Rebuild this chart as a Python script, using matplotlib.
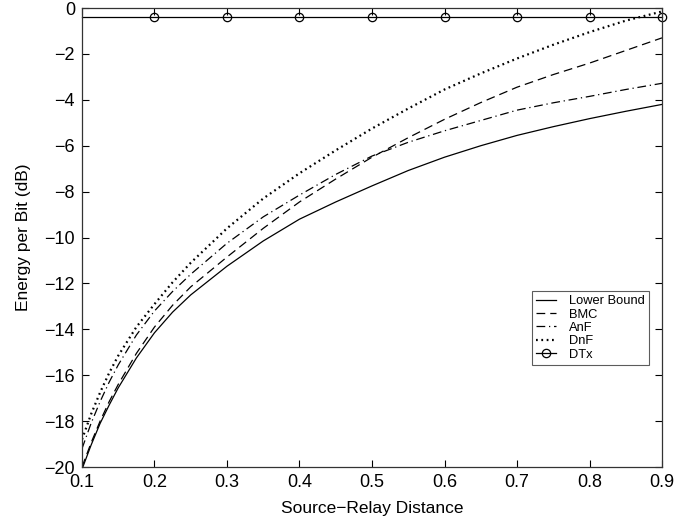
import matplotlib
matplotlib.use("Agg")
import matplotlib.pyplot as plt

plt.rcParams['font.family'] = ['Liberation Sans', 'DejaVu Sans']

x = [0.1, 0.1125, 0.125, 0.1375, 0.15, 0.175, 0.2, 0.225, 0.25, 0.3, 0.35, 0.4, 0.45, 0.5, 0.55, 0.6, 0.65, 0.7, 0.75, 0.8, 0.85, 0.9]
lower_bound = [-20.1, -19.05, -18.1, -17.3, -16.55, -15.25, -14.15, -13.25, -12.5, -11.25, -10.15, -9.2, -8.45, -7.75, -7.08, -6.5, -6.0, -5.55, -5.17, -4.82, -4.5, -4.2]
bmc = [-20.0, -18.95, -18.0, -17.15, -16.4, -15.05, -13.9, -12.95, -12.15, -10.85, -9.6, -8.45, -7.45, -6.5, -5.65, -4.85, -4.12, -3.45, -2.9, -2.4, -1.85, -1.3]
anf = [-19.2, -18.1, -17.15, -16.3, -15.55, -14.25, -13.2, -12.35, -11.6, -10.25, -9.1, -8.15, -7.25, -6.45, -5.85, -5.35, -4.9, -4.45, -4.13, -3.85, -3.55, -3.28]
dnf = [-18.8, -17.7, -16.75, -15.9, -15.15, -13.9, -12.9, -11.95, -11.1, -9.6, -8.3, -7.2, -6.2, -5.25, -4.38, -3.55, -2.85, -2.2, -1.6, -1.05, -0.55, -0.15]
dtx_x = [0.1, 0.2, 0.3, 0.4, 0.5, 0.6, 0.7, 0.8, 0.9]
dtx = [-0.4, -0.4, -0.4, -0.4, -0.4, -0.4, -0.4, -0.4, -0.4]

xticks = [0.1, 0.2, 0.3, 0.4, 0.5, 0.6, 0.7, 0.8, 0.9]
yticks = [-20, -18, -16, -14, -12, -10, -8, -6, -4, -2, 0]

fig = plt.figure(figsize=(6.93, 5.21), dpi=100)
ax = fig.add_axes([0.1183, 0.1036, 0.8370, 0.8810])

lw = 0.9
ax.plot(x, lower_bound, color='black', lw=lw, ls='-', label='Lower Bound')
ax.plot(x, bmc, color='black', lw=lw, ls=(0, (7, 4)), label='BMC')
ax.plot(x, anf, color='black', lw=lw, ls=(0, (7, 3, 1, 3)), label='AnF')
ax.plot(x, dnf, color='black', lw=1.6, ls=(0, (0.8, 1.6)), label='DnF')
ax.plot(dtx_x, dtx, color='black', lw=lw, ls='-', marker='o', markersize=6,
        markerfacecolor='none', markeredgecolor='black', markeredgewidth=0.9,
        markevery=list(range(1, len(dtx_x))), label='DTx', clip_on=False)

ax.set_xlim(0.1, 0.9)
ax.set_ylim(-20, 0)
ax.set_xticks(xticks)
ax.set_xticklabels([f"{t:.1f}" for t in xticks])
ax.set_yticks(yticks)
ax.set_yticklabels([("\u2212%d" % -t) if t < 0 else "0" for t in yticks])
ax.tick_params(direction='in', top=True, right=True, length=5, width=0.8,
               labelsize=13, pad=5, colors='black')
for s in ax.spines.values():
    s.set_linewidth(0.9)
    s.set_color('#333333')

ax.set_xlabel('Source\u2212Relay Distance', fontsize=12.5, labelpad=7)
ax.set_ylabel('Energy per Bit (dB)', fontsize=12.5, labelpad=10)

leg = ax.legend(loc='upper right', bbox_to_anchor=(0.9776, 0.384), borderaxespad=0,
                fontsize=9.3, frameon=True, fancybox=False, edgecolor='#333333',
                handlelength=1.5, handletextpad=1.0, labelspacing=0.1,
                borderpad=0.35)
leg.get_frame().set_linewidth(0.8)

fig.savefig('out.png', dpi=100)
